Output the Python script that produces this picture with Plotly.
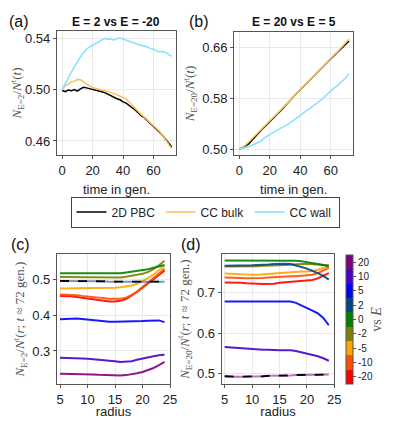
"""
Competition between E values: time series (a, b) and radial profiles (c, d).
Writes out.html.
"""

import plotly.graph_objects as go

# ---- panels (a) and (b): fraction over time ----
time_gen = list(range(0, 73, 2))

a_pbc = [0.4995, 0.4985, 0.4998, 0.4992, 0.5002, 0.4990, 0.5008, 0.5020, 0.5015, 0.5010,
         0.5003, 0.4998, 0.4994, 0.4985, 0.4978, 0.4965, 0.4958, 0.4945, 0.4930, 0.4922,
         0.4905, 0.4896, 0.4880, 0.4858, 0.4842, 0.4818, 0.4796, 0.4782, 0.4760, 0.4738,
         0.4712, 0.4690, 0.4668, 0.4642, 0.4610, 0.4580, 0.4552]
a_bulk = [0.5000, 0.5030, 0.5045, 0.5062, 0.5068, 0.5080, 0.5078, 0.5060, 0.5045, 0.5030,
          0.5018, 0.5010, 0.5004, 0.4998, 0.4993, 0.4986, 0.4978, 0.4970, 0.4962, 0.4952,
          0.4942, 0.4928, 0.4905, 0.4880, 0.4856, 0.4825, 0.4808, 0.4785, 0.4765, 0.4742,
          0.4718, 0.4698, 0.4675, 0.4645, 0.4608, 0.4572, 0.4540]
a_wall = [0.5000, 0.5050, 0.5092, 0.5138, 0.5180, 0.5222, 0.5258, 0.5290, 0.5318, 0.5335,
          0.5348, 0.5365, 0.5372, 0.5385, 0.5402, 0.5395, 0.5398, 0.5388, 0.5400, 0.5405,
          0.5396, 0.5392, 0.5380, 0.5368, 0.5360, 0.5355, 0.5348, 0.5342, 0.5335, 0.5322,
          0.5318, 0.5304, 0.5298, 0.5300, 0.5292, 0.5275, 0.5262]

b_pbc = [0.5000, 0.5025, 0.5050, 0.5080, 0.5135, 0.5190, 0.5245, 0.5290, 0.5340, 0.5385,
         0.5430, 0.5480, 0.5530, 0.5570, 0.5625, 0.5680, 0.5725, 0.5785, 0.5835, 0.5885,
         0.5935, 0.5985, 0.6035, 0.6085, 0.6130, 0.6180, 0.6225, 0.6275, 0.6320, 0.6370,
         0.6420, 0.6465, 0.6510, 0.6560, 0.6610, 0.6650, 0.6700]
b_bulk = [0.5000, 0.5030, 0.5065, 0.5110, 0.5160, 0.5210, 0.5260, 0.5310, 0.5360, 0.5405,
          0.5450, 0.5495, 0.5540, 0.5590, 0.5635, 0.5685, 0.5735, 0.5790, 0.5840, 0.5888,
          0.5935, 0.5985, 0.6030, 0.6080, 0.6128, 0.6178, 0.6228, 0.6275, 0.6325, 0.6375,
          0.6425, 0.6475, 0.6520, 0.6570, 0.6620, 0.6675, 0.6730]
b_wall = [0.5000, 0.5010, 0.5025, 0.5040, 0.5060, 0.5085, 0.5100, 0.5125, 0.5170, 0.5205,
          0.5235, 0.5262, 0.5290, 0.5315, 0.5345, 0.5360, 0.5395, 0.5425, 0.5460, 0.5495,
          0.5530, 0.5560, 0.5595, 0.5630, 0.5665, 0.5705, 0.5745, 0.5780, 0.5825, 0.5870,
          0.5925, 0.5960, 0.5990, 0.6030, 0.6075, 0.6125, 0.6185]

# ---- panels (c) and (d): radial profile at t ~ 72 gen ----
radius = list(range(5, 25))
e_labels = ["-20", "-10", "-5", "-2", "0", "2", "5", "10", "20"]

c_m20 = [0.455, 0.455, 0.454, 0.452, 0.450, 0.447, 0.444, 0.442, 0.440, 0.439,
         0.439, 0.441, 0.446, 0.455, 0.466, 0.478, 0.490, 0.502, 0.514, 0.526]
c_m10 = [0.459, 0.459, 0.458, 0.457, 0.455, 0.453, 0.451, 0.449, 0.448, 0.447,
         0.447, 0.447, 0.450, 0.457, 0.467, 0.479, 0.492, 0.505, 0.518, 0.531]
c_m5 = [0.476, 0.476, 0.476, 0.476, 0.476, 0.476, 0.476, 0.477, 0.477, 0.477,
        0.478, 0.479, 0.481, 0.484, 0.489, 0.496, 0.505, 0.515, 0.527, 0.540]
c_m2 = [0.508, 0.508, 0.508, 0.508, 0.507, 0.507, 0.507, 0.506, 0.506, 0.506,
        0.506, 0.507, 0.509, 0.511, 0.514, 0.517, 0.522, 0.530, 0.541, 0.554]
c_0 = [0.519, 0.519, 0.519, 0.519, 0.519, 0.518, 0.518, 0.518, 0.518, 0.518,
       0.518, 0.519, 0.521, 0.523, 0.525, 0.527, 0.530, 0.534, 0.538, 0.542]
c_2 = [0.497, 0.497, 0.498, 0.498, 0.498, 0.497, 0.497, 0.496, 0.496, 0.495,
       0.495, 0.494, 0.494, 0.494, 0.494, 0.494, 0.494, 0.495, 0.495, 0.495]
c_5 = [0.389, 0.390, 0.391, 0.391, 0.390, 0.388, 0.386, 0.384, 0.383, 0.382,
       0.382, 0.382, 0.382, 0.382, 0.383, 0.384, 0.385, 0.386, 0.386, 0.381]
c_10 = [0.281, 0.281, 0.280, 0.280, 0.279, 0.278, 0.277, 0.276, 0.274, 0.273,
        0.271, 0.269, 0.269, 0.271, 0.275, 0.279, 0.282, 0.285, 0.288, 0.289]
c_20 = [0.236, 0.236, 0.236, 0.236, 0.235, 0.235, 0.234, 0.233, 0.232, 0.231,
        0.231, 0.231, 0.232, 0.234, 0.237, 0.241, 0.246, 0.252, 0.260, 0.269]

d_m20 = [0.724, 0.724, 0.723, 0.723, 0.722, 0.722, 0.721, 0.720, 0.720, 0.721,
         0.723, 0.724, 0.725, 0.726, 0.727, 0.728, 0.730, 0.734, 0.740, 0.747]
d_m10 = [0.736, 0.736, 0.735, 0.735, 0.734, 0.734, 0.734, 0.735, 0.736, 0.737,
         0.738, 0.738, 0.739, 0.739, 0.740, 0.741, 0.743, 0.747, 0.753, 0.760]
d_m5 = [0.746, 0.746, 0.745, 0.744, 0.743, 0.743, 0.743, 0.744, 0.745, 0.747,
        0.748, 0.749, 0.750, 0.750, 0.751, 0.751, 0.752, 0.755, 0.759, 0.764]
d_m2 = [0.763, 0.763, 0.763, 0.763, 0.764, 0.764, 0.764, 0.765, 0.765, 0.766,
        0.766, 0.767, 0.768, 0.768, 0.769, 0.769, 0.769, 0.768, 0.767, 0.766]
d_0 = [0.778, 0.778, 0.778, 0.778, 0.778, 0.778, 0.778, 0.778, 0.778, 0.778,
       0.778, 0.778, 0.778, 0.777, 0.776, 0.774, 0.772, 0.770, 0.767, 0.763]
d_2 = [0.765, 0.765, 0.765, 0.765, 0.766, 0.766, 0.767, 0.767, 0.768, 0.769,
       0.770, 0.770, 0.769, 0.766, 0.762, 0.758, 0.753, 0.747, 0.740, 0.731]
d_5 = [0.677, 0.677, 0.677, 0.677, 0.677, 0.677, 0.678, 0.678, 0.678, 0.678,
       0.678, 0.678, 0.677, 0.674, 0.668, 0.661, 0.655, 0.648, 0.637, 0.619]
d_10 = [0.566, 0.565, 0.563, 0.562, 0.561, 0.560, 0.560, 0.559, 0.559, 0.558,
        0.558, 0.558, 0.558, 0.556, 0.553, 0.550, 0.547, 0.543, 0.538, 0.532]
d_20 = [0.494, 0.493, 0.493, 0.493, 0.493, 0.494, 0.494, 0.494, 0.495, 0.495,
        0.495, 0.496, 0.496, 0.497, 0.497, 0.498, 0.498, 0.498, 0.498, 0.498]

E_COLORS = ["#FF0000", "#FF4F00", "#FFA500", "#808000", "#008000",
            "#00468B", "#0000FF", "#4A00CC", "#800080"]
PBC_COLOR = "#000000"
BULK_COLOR = "#FBC25A"
WALL_COLOR = "#86E0FF"

# page has an 8px body margin, so the figure is drawn 16px smaller
OFF = 8
W, H = 397 - 2 * OFF, 427 - 2 * OFF
SANS = "Liberation Sans"
SERIF = "Liberation Serif"


def fx(px):
    return (px - OFF) / W


def fy(py):
    return 1 - (py - OFF) / H


def xdom(a, b):
    return [fx(a), fx(b)]


def ydom(top, bottom):
    return [fy(bottom), fy(top)]


fig = go.Figure()

# time series
for xa, ya, series in [
    ("x", "y", [(a_pbc, "2D PBC", PBC_COLOR), (a_bulk, "CC bulk", BULK_COLOR), (a_wall, "CC wall", WALL_COLOR)]),
    ("x2", "y2", [(b_pbc, "2D PBC", PBC_COLOR), (b_bulk, "CC bulk", BULK_COLOR), (b_wall, "CC wall", WALL_COLOR)]),
]:
    for vals, name, col in series:
        fig.add_trace(go.Scatter(
            x=time_gen, y=vals, mode="lines", name=name,
            line=dict(color=col, width=1.5),
            showlegend=(xa == "x"), xaxis=xa, yaxis=ya,
        ))

# radial profiles
c_series = [c_m20, c_m10, c_m5, c_m2, c_0, c_2, c_5, c_10, c_20]
d_series = [d_m20, d_m10, d_m5, d_m2, d_0, d_2, d_5, d_10, d_20]
for xa, ya, series, self_idx in [("x3", "y3", c_series, 5), ("x4", "y4", d_series, 8)]:
    for i, vals in enumerate(series):
        fig.add_trace(go.Scatter(
            x=radius, y=vals, mode="lines", line=dict(color=E_COLORS[i], width=2),
            opacity=0.55 if i == self_idx else 0.9,
            showlegend=False, xaxis=xa, yaxis=ya,
        ))
    fig.add_trace(go.Scatter(
        x=radius, y=series[self_idx], mode="lines",
        line=dict(color="black", width=1.8, dash="dash"),
        showlegend=False, xaxis=xa, yaxis=ya,
    ))

# discrete colorbar
n = len(E_COLORS)
scale = []
for i, col in enumerate(E_COLORS):
    scale += [[i / n, col], [(i + 1) / n, col]]
fig.add_trace(go.Scatter(
    x=[None], y=[None], mode="markers", showlegend=False, xaxis="x4", yaxis="y4",
    marker=dict(
        color=[0], cmin=-0.5, cmax=n - 0.5, colorscale=scale, showscale=True,
        colorbar=dict(
            x=fx(345.5), xanchor="left", y=fy(319.5), yanchor="middle",
            len=129 / H, lenmode="fraction", thickness=7, xpad=0, ypad=0,
            outlinecolor="#555", outlinewidth=1,
            tickvals=list(range(n)), ticktext=e_labels,
            ticks="outside", ticklen=3, tickcolor="#555",
            tickfont=dict(family=SANS, size=10, color="#222"),
            title=dict(text="vs <i>E</i>", side="right",
                       font=dict(family=SERIF, size=14, color="#555")),
        ),
    ),
))

axis_common = dict(
    showline=True, mirror=True, linecolor="#555", linewidth=1.2,
    ticks="outside", ticklen=3, tickcolor="#555",
    showgrid=True, gridcolor="#e9e9e9", zeroline=False,
    tickfont=dict(family=SANS, size=13, color="#222"),
    automargin=False,
)
xtitle_font = dict(family=SANS, size=13, color="#222")
ytitle_font = dict(family=SERIF, size=13, color="#555")


def label(text, x, y, size, bold=False):
    return dict(text=f"<b>{text}</b>" if bold else text, x=fx(x), y=fy(y),
                xref="paper", yref="paper", xanchor="center", yanchor="middle",
                showarrow=False, font=dict(family=SANS, size=size, color="#111"))


fig.update_layout(
    xaxis=dict(axis_common, domain=xdom(57, 176), anchor="y", range=[-3.4, 74.8],
               tickvals=[0, 20, 40, 60],
               title=dict(text="time in gen.", font=xtitle_font, standoff=8)),
    yaxis=dict(axis_common, domain=ydom(31, 155), anchor="x", range=[0.449, 0.546],
               tickvals=[0.46, 0.50, 0.54], tickformat=".2f",
               title=dict(text="<i>N</i><sub>E=2</sub>/<i>N</i><sup>t</sup>(<i>t</i>)",
                          font=ytitle_font, standoff=4)),
    xaxis2=dict(axis_common, domain=xdom(234.3, 353), anchor="y2", range=[-3.3, 74.6],
                tickvals=[0, 20, 40, 60],
                title=dict(text="time in gen.", font=xtitle_font, standoff=8)),
    yaxis2=dict(axis_common, domain=ydom(32, 155), anchor="x2", range=[0.491, 0.684],
                tickvals=[0.50, 0.58, 0.66], tickformat=".2f",
                title=dict(text="<i>N</i><sub>E=20</sub>/<i>N</i><sup>t</sup>(<i>t</i>)",
                           font=ytitle_font, standoff=4)),
    xaxis3=dict(axis_common, domain=xdom(57, 170), anchor="y3", range=[4.45, 25],
                tickvals=[5, 10, 15, 20, 25],
                title=dict(text="radius", font=xtitle_font, standoff=11)),
    yaxis3=dict(axis_common, domain=ydom(254.3, 384), anchor="x3", range=[0.207, 0.572],
                tickvals=[0.3, 0.4, 0.5], tickformat=".1f",
                title=dict(text="<i>N</i><sub>E=2</sub>/<i>N</i><sup>t</sup>(<i>r</i>; <i>t</i> ≈ 72 gen.)",
                           font=ytitle_font, standoff=4)),
    xaxis4=dict(axis_common, domain=xdom(221.7, 334.3), anchor="y4", range=[4.45, 25],
                tickvals=[5, 10, 15, 20, 25],
                title=dict(text="radius", font=xtitle_font, standoff=11)),
    yaxis4=dict(axis_common, domain=ydom(254.3, 384), anchor="x4", range=[0.475, 0.793],
                tickvals=[0.5, 0.6, 0.7], tickformat=".1f",
                title=dict(text="<i>N</i><sub>E=20</sub>/<i>N</i><sup>t</sup>(<i>r</i>; <i>t</i> ≈ 72 gen.)",
                           font=ytitle_font, standoff=4)),
    legend=dict(
        orientation="h", x=fx(205), xanchor="center", y=fy(212), yanchor="middle",
        bordercolor="#444", borderwidth=1, bgcolor="white",
        font=dict(family=SANS, size=12, color="#222"), itemwidth=30,
        entrywidth=44, entrywidthmode="pixels",
    ),
    annotations=[
        label("E = 2 vs E = -20", 116.5, 22, 12, bold=True),
        label("E = 20 vs E = 5", 293.7, 22, 12, bold=True),
        label("(a)", 19, 22, 16),
        label("(b)", 199, 22, 16),
        label("(c)", 20, 245, 16),
        label("(d)", 191, 245, 16),
    ],
    width=W, height=H, autosize=False,
    margin=dict(l=0, r=0, t=0, b=0),
    paper_bgcolor="white", plot_bgcolor="white",
)

fig.write_html("out.html")
